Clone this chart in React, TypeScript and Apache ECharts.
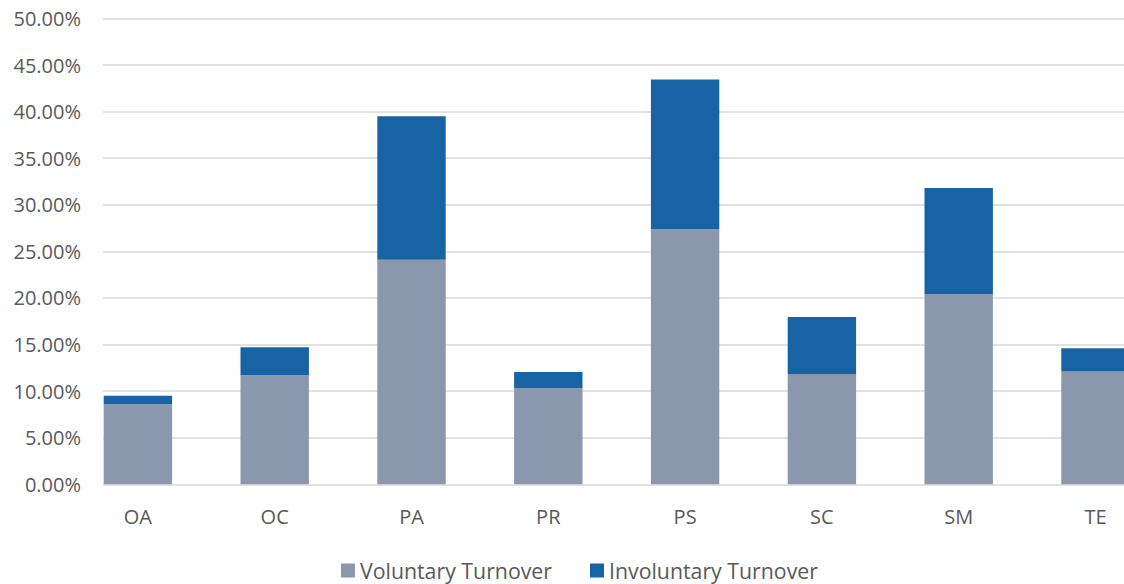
import React, { useEffect, useRef } from "react";
import * as echarts from "echarts";

const categories = ["OA", "OC", "PA", "PR", "PS", "SC", "SM", "TE"];
const voluntary = [8.6, 11.7, 24.1, 10.3, 27.4, 11.85, 20.4, 12.1];
const involuntary = [0.9, 3.0, 15.4, 1.75, 16.05, 6.1, 11.4, 2.5];
const yTicks = [0, 5, 10, 15, 20, 25, 30, 35, 40, 45, 50];

const FONT = "'Open Sans', sans-serif";
const TEXT = "#595959";

export default function App() {
  const ref = useRef<HTMLDivElement>(null);
  useEffect(() => {
    if (!ref.current) return;
    document.body.style.margin = "0";
    document.body.style.overflow = "hidden";
    const chart = echarts.init(ref.current, undefined, { renderer: "svg" });
    const top = 18.5;
    const height = 465.8;
    chart.setOption({
      animation: false,
      backgroundColor: "#ffffff",
      textStyle: { fontFamily: FONT },
      grid: [
        { left: 69.5, width: 1094.4, top, height },
        { left: 103, right: 0, top, height },
      ],
      legend: {
        left: 336,
        top: 555,
        icon: "rect",
        itemWidth: 14,
        itemHeight: 14,
        itemGap: 38,
        textStyle: { color: TEXT, fontSize: 21.3, fontFamily: FONT },
        data: ["Voluntary Turnover", "Involuntary Turnover"],
      },
      xAxis: [
        {
          type: "category",
          gridIndex: 0,
          data: categories,
          axisLine: { show: false },
          axisTick: { show: false },
          axisLabel: { color: TEXT, fontSize: 20, fontFamily: FONT, margin: 22 },
        },
        {
          type: "value",
          gridIndex: 1,
          show: false,
          min: 0,
          max: 1,
        },
      ],
      yAxis: [
        {
          type: "value",
          gridIndex: 0,
          min: 0,
          max: 50,
          interval: 5,
          show: false,
          splitLine: { show: false },
        },
        {
          type: "value",
          gridIndex: 1,
          min: yTicks[0],
          max: yTicks[yTicks.length - 1],
          interval: 5,
          axisLine: { show: false },
          axisTick: { show: false },
          splitLine: { lineStyle: { color: "#D9D9D9", width: 1.5 } },
          axisLabel: {
            color: TEXT,
            fontSize: 20,
            fontFamily: FONT,
            margin: 22,
            formatter: (v: number) => v.toFixed(2) + "%",
          },
        },
      ],
      series: [
        {
          name: "Voluntary Turnover",
          type: "bar",
          stack: "total",
          xAxisIndex: 0,
          yAxisIndex: 0,
          barWidth: "50%",
          data: voluntary,
          itemStyle: { color: "#8B97AD" },
        },
        {
          name: "Involuntary Turnover",
          type: "bar",
          stack: "total",
          xAxisIndex: 0,
          yAxisIndex: 0,
          barWidth: "50%",
          data: involuntary,
          itemStyle: { color: "#1763A3" },
        },
      ],
    });
    return () => chart.dispose();
  }, []);
  return (
    <div
      ref={ref}
      style={{ position: "fixed", left: 0, top: 0, width: 1170, height: 584 }}
    />
  );
}
